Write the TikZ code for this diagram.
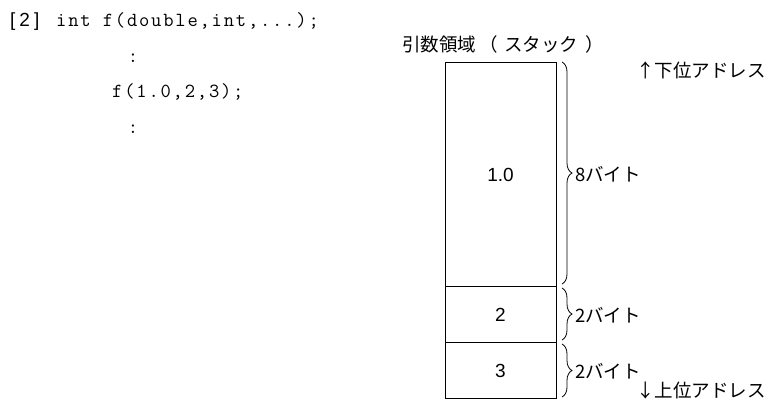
\documentclass[tikz,border=0pt]{standalone}
\usepackage{fontspec}
\setmainfont{Liberation Sans}
\newfontfamily\jpfont{Noto Sans CJK JP}
\newfontfamily\codefont{Latin Modern Mono}[LetterSpace=9]
\usetikzlibrary{decorations.pathreplacing}
\begin{document}
\begin{tikzpicture}[x=1pt,y=-1pt,
  code/.style={font=\codefont\fontsize{20}{22}\selectfont,inner sep=0pt},
  jp/.style={font=\jpfont\fontsize{18.5}{22}\selectfont,inner sep=0pt},
  num/.style={font=\fontsize{19}{22}\selectfont,inner sep=0pt},
  cell/.style={draw,line width=0.8pt},
  bytebrace/.style={draw,line width=0.8pt,decorate,decoration={brace,amplitude=10pt}}]
\useasboundingbox (0,0) rectangle (771,402);
% code
\node[num,anchor=base west] (lbl) at (10,26) {[\hspace{4pt}2\hspace{4pt}]};
\node[code,anchor=base west] (l1) at (56,26) {int f(double,int,...);};
\node[code,anchor=base] (l2) at (133,62) {:};
\node[code,anchor=base west] (l3) at (112,97) {f(1.0,2,3);};
\node[code,anchor=base] (l4) at (133,133) {:};
% stack
\node[jp,anchor=base] (title) at (503,51) {引数領域\hspace{3pt}（\hspace{7pt}スタック\hspace{7pt}）};
\draw[cell] (445,62) rectangle (556,286);
\draw[cell] (445,286) rectangle (556,342);
\draw[cell] (445,342) rectangle (556,398);
\node[num] (v1) at (500.5,175) {1.0};
\node[num] (v2) at (500.5,315) {2};
\node[num] (v3) at (500.5,371) {3};
% braces
\coordinate (b1a) at (562,62);
\coordinate (b1b) at (562,284);
\coordinate (b2a) at (562,288);
\coordinate (b2b) at (562,340);
\coordinate (b3a) at (562,344);
\coordinate (b3b) at (562,397);
\draw[bytebrace] (b1a) -- (b1b);
\draw[bytebrace] (b2a) -- (b2b);
\draw[bytebrace] (b3a) -- (b3b);
\node[jp,anchor=west] (s1) at (575,174) {8バイト};
\node[jp,anchor=west] (s2) at (575,315) {2バイト};
\node[jp,anchor=west] (s3) at (575,371) {2バイト};
% addresses
\node[jp,anchor=base west] (lo) at (636,77) {↑下位アドレス};
\node[jp,anchor=base west] (hi) at (636,397) {↓上位アドレス};
\end{tikzpicture}
\end{document}
